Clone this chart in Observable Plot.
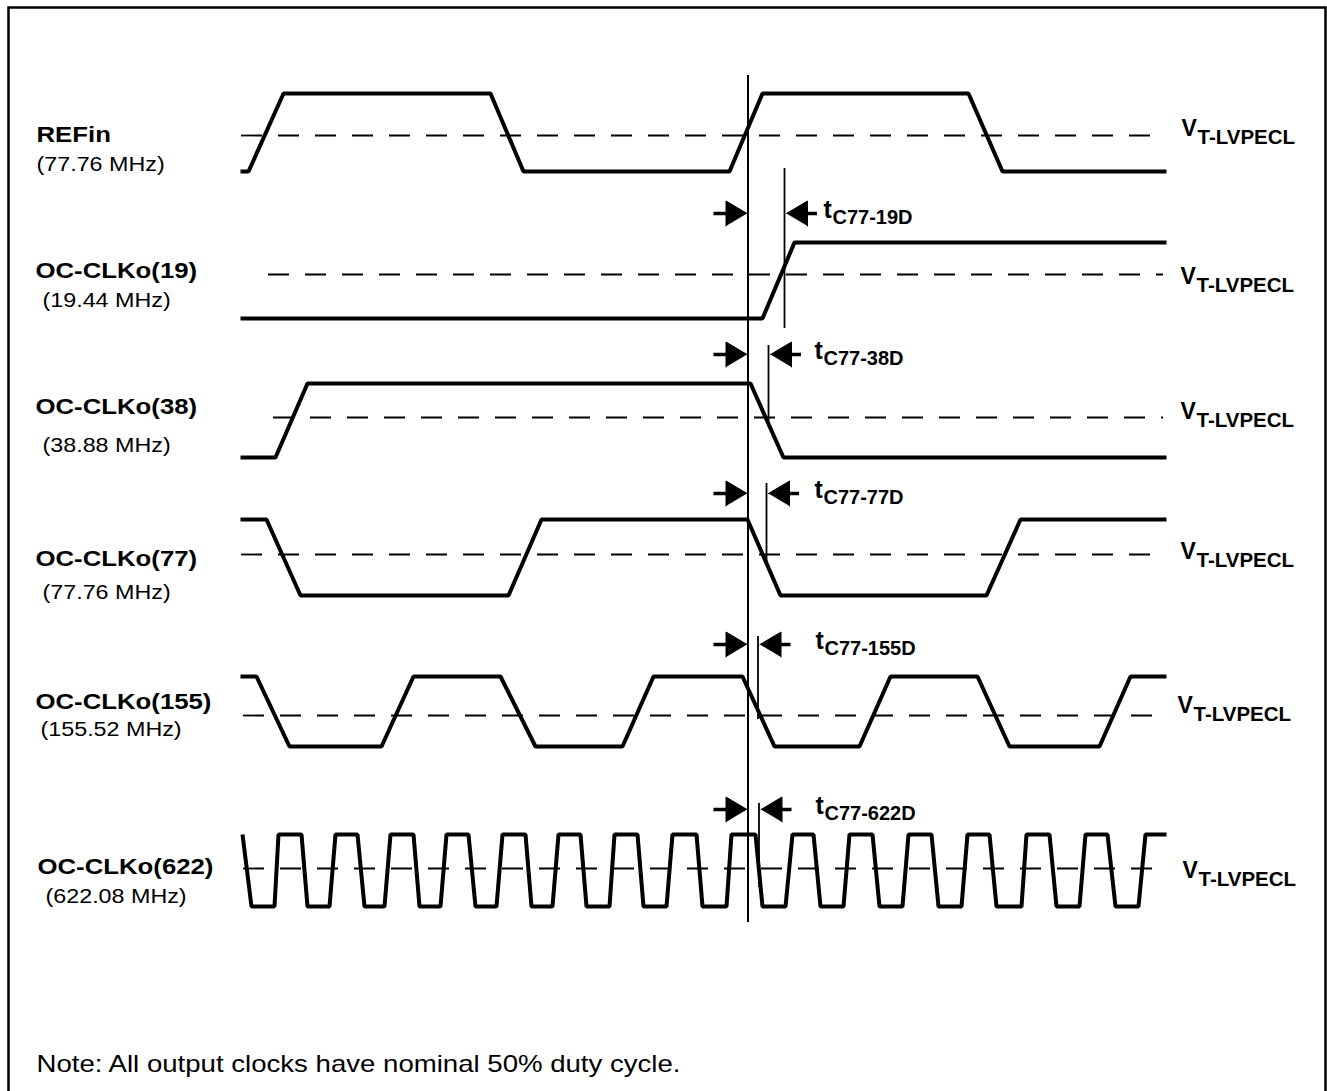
<!DOCTYPE html>
<html>
<head>
<meta charset="utf-8">
<script src="https://cdn.jsdelivr.net/npm/d3@7"></script>
<script src="https://cdn.jsdelivr.net/npm/@observablehq/plot@0.6"></script>
<style>
html,body{margin:0;padding:0;background:#fff;overflow:hidden}
#chart svg{display:block}
</style>
</head>
<body>
<div id="chart"></div>
<script>
// ---------- data ----------
const signalNames = ["REFin", "OC-CLKo(19)", "OC-CLKo(38)", "OC-CLKo(77)", "OC-CLKo(155)", "OC-CLKo(622)"];
const signalFreqs = ["(77.76 MHz)", "(19.44 MHz)", "(38.88 MHz)", "(77.76 MHz)", "(155.52 MHz)", "(622.08 MHz)"];

// logic levels per row (vertical position of high / low / threshold)
const levelHigh = [93, 242, 383, 519, 676, 834];
const levelLow = [171, 318, 457, 595, 746, 906];
const thresholdLevel = [135, 274, 417, 554, 715, 868];

// waveform breakpoints: [time, logic level]
const refinWave = [[240,0],[248,0],[283,1],[490,1],[523,0],[729,0],[762,1],[968,1],[1002,0],[1166,0]];
const clk19Wave = [[240,0],[762,0],[794,1],[1166,1]];
const clk38Wave = [[240,0],[275,0],[307,1],[750,1],[783,0],[1166,0]];
const clk77Wave = [[240,1],[266,1],[300,0],[508,0],[541,1],[747,1],[780,0],[986,0],[1020,1],[1166,1]];
const clk155Wave = [[240,1],[256,1],[289,0],[381,0],[413,1],[500,1],[535,0],[622,0],[653,1],[742,1],[774,0],[859,0],[890,1],[977,1],[1009,0],[1099,0],[1130,1],[1166,1]];
const clk622Wave = [[242,1],[251,0],[274,0],[278,1],[301,1],[307,0],[329,0],[335,1],[357,1],[364,0],[384,0],[390,1],[413,1],[419,0],[440,0],[446,1],[468,1],[475,0],[496,0],[502,1],[525,1],[531,0],[552,0],[558,1],[580,1],[586,0],[609,0],[614,1],[637,1],[643,0],[666,0],[672,1],[696,1],[702,0],[726,0],[731,1],[755,1],[762,0],[785,0],[792,1],[813,1],[820,0],[843,0],[849,1],[872,1],[879,0],[902,0],[908,1],[931,1],[938,0],[961,0],[967,1],[989,1],[996,0],[1021,0],[1026,1],[1049,1],[1056,0],[1079,0],[1085,1],[1107,1],[1115,0],[1138,0],[1145,1],[1166,1]];

// threshold (V_T-LVPECL) dashed lines
const thresholdStart = [241, 268, 273, 241, 243, 243];
const thresholdEnd = 1163;
const thresholdLabel = "V";
const thresholdSub = "T-LVPECL";

// reference edge and skew annotations
const refEdgeTime = 747.5;
const refEdgeSpan = [75, 922];
const skewLabels = ["C77-19D", "C77-38D", "C77-77D", "C77-155D", "C77-622D"];
const skewArrowLevel = [213, 354, 493, 644, 809];
const skewMarkerTime = [784, 768, 766, 757.5, 758.5];
const skewMarkerTop = [168, 345, 483, 636, 803];
const skewMarkerBottom = [328, 427, 563, 719, 887];

const noteText = "Note: All output clocks have nominal 50% duty cycle.";

// ---------- layout (text placement) ----------
const W = 1327, H = 1100;
const nameX = [36, 35, 35, 35, 35, 37];
const nameBase = [141, 277, 413, 565, 708, 873];
const freqX = [36, 42, 42, 42, 40, 45];
const freqBase = [170, 306, 451, 598, 735, 902];
const vLabelX = [1181, 1180, 1180, 1180, 1177, 1182];
const vLabelBase = [135, 283, 418, 558, 712, 877];
const tLabelX = [823, 814, 814, 815, 815];

// ---------- build tables ----------
const rows = d3.range(signalNames.length);
const waves = [refinWave, clk19Wave, clk38Wave, clk77Wave, clk155Wave, clk622Wave];
const wavePts = waves.flatMap((w, i) => w.map(([t, l]) => ({row: i, t, v: levelLow[i] + l * (levelHigh[i] - levelLow[i])})));

const headLen = 21, headHalf = 12.5, stemLen = 12;
const tri = [], stems = [];
skewLabels.forEach((s, i) => {
  const y = skewArrowLevel[i];
  const tipL = refEdgeTime - 1;
  tri.push({k: "a" + i, x: tipL, y}, {k: "a" + i, x: tipL - headLen, y: y - headHalf}, {k: "a" + i, x: tipL - headLen, y: y + headHalf});
  stems.push({y, x1: tipL - headLen - stemLen, x2: tipL - headLen + 2});
  const tipR = skewMarkerTime[i] + 2;
  tri.push({k: "b" + i, x: tipR, y}, {k: "b" + i, x: tipR + headLen, y: y - headHalf}, {k: "b" + i, x: tipR + headLen, y: y + headHalf});
  stems.push({y, x1: tipR + headLen - 2, x2: tipR + headLen + 10});
});

const font = "'Liberation Sans', Arial, Helvetica, sans-serif";

const chart = Plot.plot({
  width: W,
  height: H,
  marginLeft: 8, marginTop: 7, marginRight: 2, marginBottom: 0,
  x: {domain: [0, W], range: [0, W], axis: null},
  y: {domain: [0, H], range: [0, H], axis: null},
  style: {fontFamily: font, background: "white", color: "black", overflow: "visible"},
  marks: [
    Plot.frame({stroke: "black", strokeWidth: 2.5}),
    // thresholds
    Plot.ruleY(rows, {y: i => thresholdLevel[i], x1: i => thresholdStart[i], x2: () => thresholdEnd,
      stroke: "black", strokeWidth: 1.8, strokeDasharray: "21,16"}),
    // reference edge
    Plot.ruleX([refEdgeTime], {x: d => d, y1: () => refEdgeSpan[0], y2: () => refEdgeSpan[1], stroke: "black", strokeWidth: 2}),
    // skew markers
    Plot.ruleX(d3.range(skewLabels.length), {x: i => skewMarkerTime[i], y1: i => skewMarkerTop[i], y2: i => skewMarkerBottom[i], stroke: "black", strokeWidth: 1.8}),
    // waveforms
    Plot.line(wavePts, {x: "t", y: "v", z: "row", stroke: "black", strokeWidth: 4, strokeLinejoin: "miter", strokeLinecap: "butt", curve: "linear"}),
    // arrows
    Plot.ruleY(stems, {y: "y", x1: "x1", x2: "x2", stroke: "black", strokeWidth: 3.5}),
    Plot.line(tri, {x: "x", y: "y", z: "k", fill: "black", stroke: "black", strokeWidth: 1}),
    // signal names
    Plot.text(rows, {x: i => nameX[i], y: i => nameBase[i], text: i => signalNames[i], textAnchor: "start", lineAnchor: "bottom",
      fontSize: 23, fontWeight: "bold", fill: "black", ariaDescription: "stretch-name"}),
    Plot.text(rows, {x: i => freqX[i], y: i => freqBase[i], text: i => signalFreqs[i], textAnchor: "start", lineAnchor: "bottom",
      fontSize: 21, fill: "black", ariaDescription: "stretch-freq"}),
    // V_T-LVPECL labels
    Plot.text(rows, {x: i => vLabelX[i], y: i => vLabelBase[i], text: () => thresholdLabel, textAnchor: "start", lineAnchor: "bottom",
      fontSize: 23, fontWeight: "bold", fill: "black"}),
    Plot.text(rows, {x: i => vLabelX[i] + 16, y: i => vLabelBase[i] + 8, text: () => thresholdSub, textAnchor: "start", lineAnchor: "bottom",
      fontSize: 20.5, fontWeight: "bold", fill: "black"}),
    // skew labels
    Plot.text(d3.range(skewLabels.length), {x: i => tLabelX[i], y: i => skewArrowLevel[i] + 4, text: () => "t", textAnchor: "start", lineAnchor: "bottom",
      fontSize: 25, fontWeight: "bold", fill: "black"}),
    Plot.text(d3.range(skewLabels.length), {x: i => tLabelX[i] + 9, y: i => skewArrowLevel[i] + 10, text: i => skewLabels[i], textAnchor: "start", lineAnchor: "bottom",
      fontSize: 20, fontWeight: "bold", fill: "black"}),
    // note
    Plot.text([noteText], {x: () => 36, y: () => 1071, text: d => d, textAnchor: "start", lineAnchor: "bottom",
      fontSize: 23, fill: "black", ariaDescription: "stretch-note"})
  ]
});

function stretch(sel, s) {
  chart.querySelectorAll(`g[aria-description="${sel}"] text`).forEach(t => {
    const tr = t.getAttribute("transform");
    if (tr) t.setAttribute("transform", tr + ` scale(${s},1)`);
    else {
      const x = +t.getAttribute("x") || 0, y = +t.getAttribute("y") || 0;
      t.removeAttribute("x"); t.removeAttribute("y");
      t.setAttribute("transform", `translate(${x},${y}) scale(${s},1)`);
    }
  });
}
stretch("stretch-name", 1.12);
stretch("stretch-freq", 1.11);
stretch("stretch-note", 1.2);

document.getElementById("chart").appendChild(chart);
</script>
</body>
</html>
